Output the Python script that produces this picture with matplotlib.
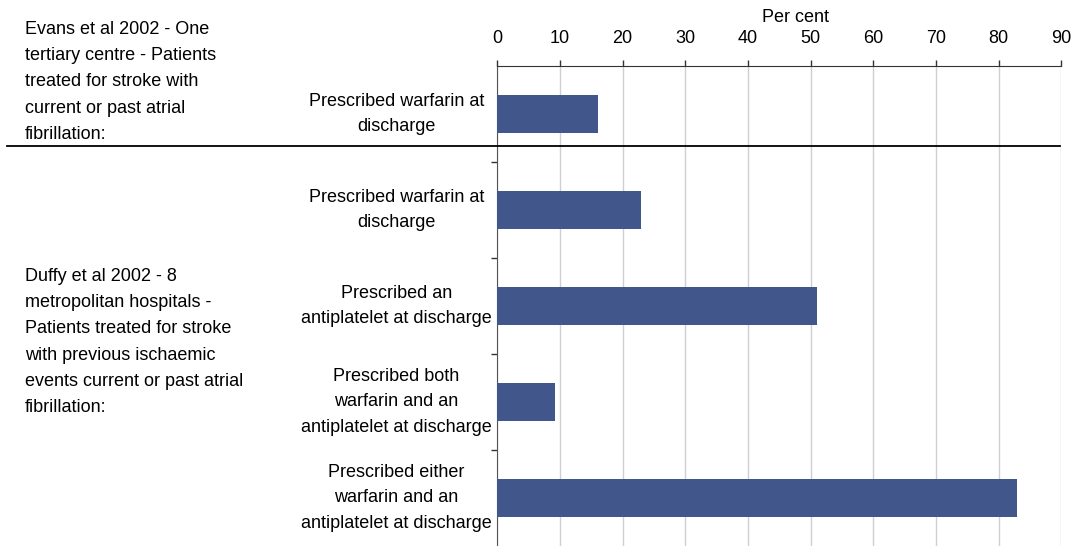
import matplotlib.pyplot as plt
from matplotlib.lines import Line2D

plt.rcParams['font.family'] = ['Liberation Sans', 'DejaVu Sans']

# data
labels = ["Prescribed warfarin at\ndischarge",
          "Prescribed warfarin at\ndischarge",
          "Prescribed an\nantiplatelet at discharge",
          "Prescribed both\nwarfarin and an\nantiplatelet at discharge",
          "Prescribed either\nwarfarin and an\nantiplatelet at discharge"]
values = [16, 23, 51, 9.2, 83]
group1 = "Evans et al 2002 - One\ntertiary centre - Patients\ntreated for stroke with\ncurrent or past atrial\nfibrillation:"
group2 = "Duffy et al 2002 - 8\nmetropolitan hospitals -\nPatients treated for stroke\nwith previous ischaemic\nevents current or past atrial\nfibrillation:"
xticks = list(range(0, 100, 10))

W, H = 1073, 546
fig = plt.figure(figsize=(W / 100, H / 100), dpi=100)
ax = fig.add_axes([497.3 / W, 0, (1061.3 - 497.3) / W, (546 - 66) / H])

pos = list(range(len(values)))
ax.barh(pos, values, height=0.4, color='#41578C', zorder=3)
ax.set_xlim(0, 90)
ax.set_ylim(len(values) - 0.5, -0.5)

ax.xaxis.tick_top()
ax.set_xticks(xticks)
ax.set_xticklabels([str(t) for t in xticks], fontsize=13)
ax.tick_params(axis='x', direction='out', length=4, width=1, pad=9.5, color='#333333')
ax.set_yticks([p + 0.5 for p in pos[:-1]])
ax.set_yticklabels([])
ax.tick_params(axis='y', direction='out', length=4, width=1, color='#333333')
ax.grid(axis='x', color='#cfcfcf', linewidth=1, zorder=0)

for s in ['right', 'bottom']:
    ax.spines[s].set_visible(False)
ax.spines['top'].set_color('#333333')
ax.spines['left'].set_color('#555555')

ytr = ax.get_yaxis_transform()
for p, lab in zip(pos, labels):
    ax.text(-0.179, p, lab, transform=ytr, ha='center', va='center',
            multialignment='center', fontsize=13, linespacing=1.62)

fig.text(795 / W, 1 - 18 / H, "Per cent", ha='center', va='center', fontsize=13)
fig.text(25 / W, 1 - 82 / H, group1, ha='left', va='center', fontsize=13, linespacing=1.7)
fig.text(25 / W, 1 - 342 / H, group2, ha='left', va='center', fontsize=13, linespacing=1.7)

fig.add_artist(Line2D([7 / W, 1060 / W], [1 - 145.7 / H, 1 - 145.7 / H],
                      transform=fig.transFigure, color='black', linewidth=1.3))

fig.savefig('out.png', dpi=100)
